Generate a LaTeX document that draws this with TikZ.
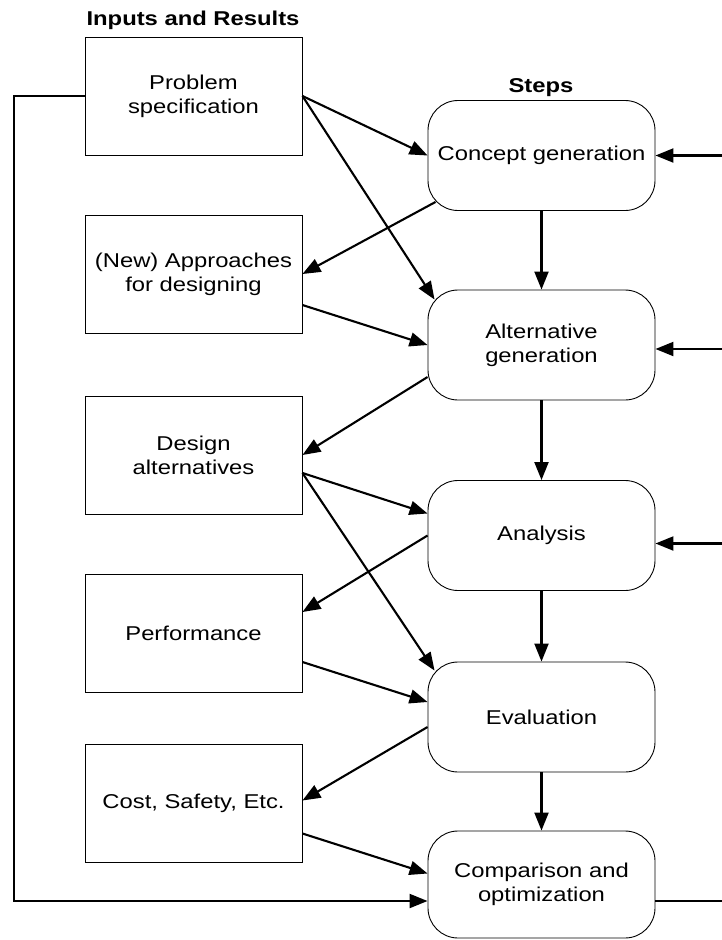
\documentclass[tikz,border=0pt]{standalone}
\usepackage{fontspec}
\setmainfont[FakeStretch=1.19]{Liberation Sans}
\usetikzlibrary{arrows.meta}

\begin{document}
\begin{tikzpicture}[x=1pt,y=-1pt,
  font=\fontsize{20}{24}\selectfont,
  inbox/.style={draw, line width=0.9pt, minimum width=217pt, minimum height=118pt,
    align=center, inner sep=0pt},
  stepbox/.style={draw, line width=0.9pt, rounded corners=30pt, minimum width=227pt,
    minimum height=110pt, align=center, inner sep=0pt},
  conn/.style={line width=2.1pt, -{Triangle[length=18pt,width=14pt]}},
  link/.style={line width=2.1pt},
  heading/.style={font=\bfseries\fontsize{20}{24}\selectfont}]

\useasboundingbox (0,0) rectangle (722,940);

% column headings
\node[heading] (h1) at (193,20) {Inputs and Results};
\node[heading] (h2) at (541,88) {Steps};

% inputs and results
\node[inbox] (ps) at (193.5,96)    {Problem\\specification};
\node[inbox] (ap) at (193.5,274)   {(New) Approaches\\for designing};
\node[inbox] (da) at (193.5,455)   {Design\\alternatives};
\node[inbox] (pf) at (193.5,633)   {Performance};
\node[inbox] (cs) at (193.5,803.5) {Cost, Safety, Etc.};

% steps
\node[stepbox] (cg) at (541.5,155.5) {Concept generation};
\node[stepbox] (ag) at (541.5,345)   {Alternative\\generation};
\node[stepbox] (an) at (541.5,535.5) {Analysis};
\node[stepbox] (ev) at (541.5,717)   {Evaluation};
\node[stepbox, minimum height=107pt] (co) at (541.5,884.5) {Comparison and\\optimization};

% helper coordinates
\coordinate (fb) at (14,0);
\coordinate (rx) at (722,0);
\coordinate (cgin) at (cg.east);
\coordinate (agin) at ([yshift=-4pt]ag.east);
\coordinate (anin) at ([yshift=-8pt]an.east);
\coordinate (coin) at ([yshift=-16.5pt]co.west);
\coordinate (coout) at ([yshift=-16.5pt]co.east);

% inputs to steps and steps to results
\draw[conn] (ps.east) -- (cg.west);
\draw[conn] (ps.east) -- ([shift={(7pt,-10pt)}]ag.north west);
\draw[conn] ([shift={(8pt,9pt)}]cg.south west) -- (ap.east);
\draw[conn] ([yshift=-31pt]ap.east) -- (ag.west);
\draw[conn] ([yshift=-32pt]ag.west) -- (da.east);
\draw[conn] ([yshift=-18pt]da.east) -- ([yshift=22pt]an.west);
\draw[conn] ([yshift=-18pt]da.east) -- ([shift={(7pt,-9pt)}]ev.north west);
\draw[conn] (an.west) -- ([yshift=21pt]pf.east);
\draw[conn] ([yshift=-29pt]pf.east) -- ([yshift=15pt]ev.west);
\draw[conn] ([yshift=-10pt]ev.west) -- ([yshift=3pt]cs.east);
\draw[conn] ([yshift=-30pt]cs.east) -- ([yshift=11pt]co.west);

% step sequence
\draw[conn] (cg.south) -- (ag.north);
\draw[conn] (ag.south) -- (an.north);
\draw[conn] (an.south) -- (ev.north);
\draw[conn] (ev.south) -- (co.north);

% feedback from problem specification
\draw[conn] (ps.west) -- (ps.west -| fb) |- (coin);

% links along the right edge
\draw[conn] (cgin -| rx) -- (cgin);
\draw[conn] (agin -| rx) -- (agin);
\draw[conn] (anin -| rx) -- (anin);
\draw[link] (coout) -- (coout -| rx);
\end{tikzpicture}
\end{document}
